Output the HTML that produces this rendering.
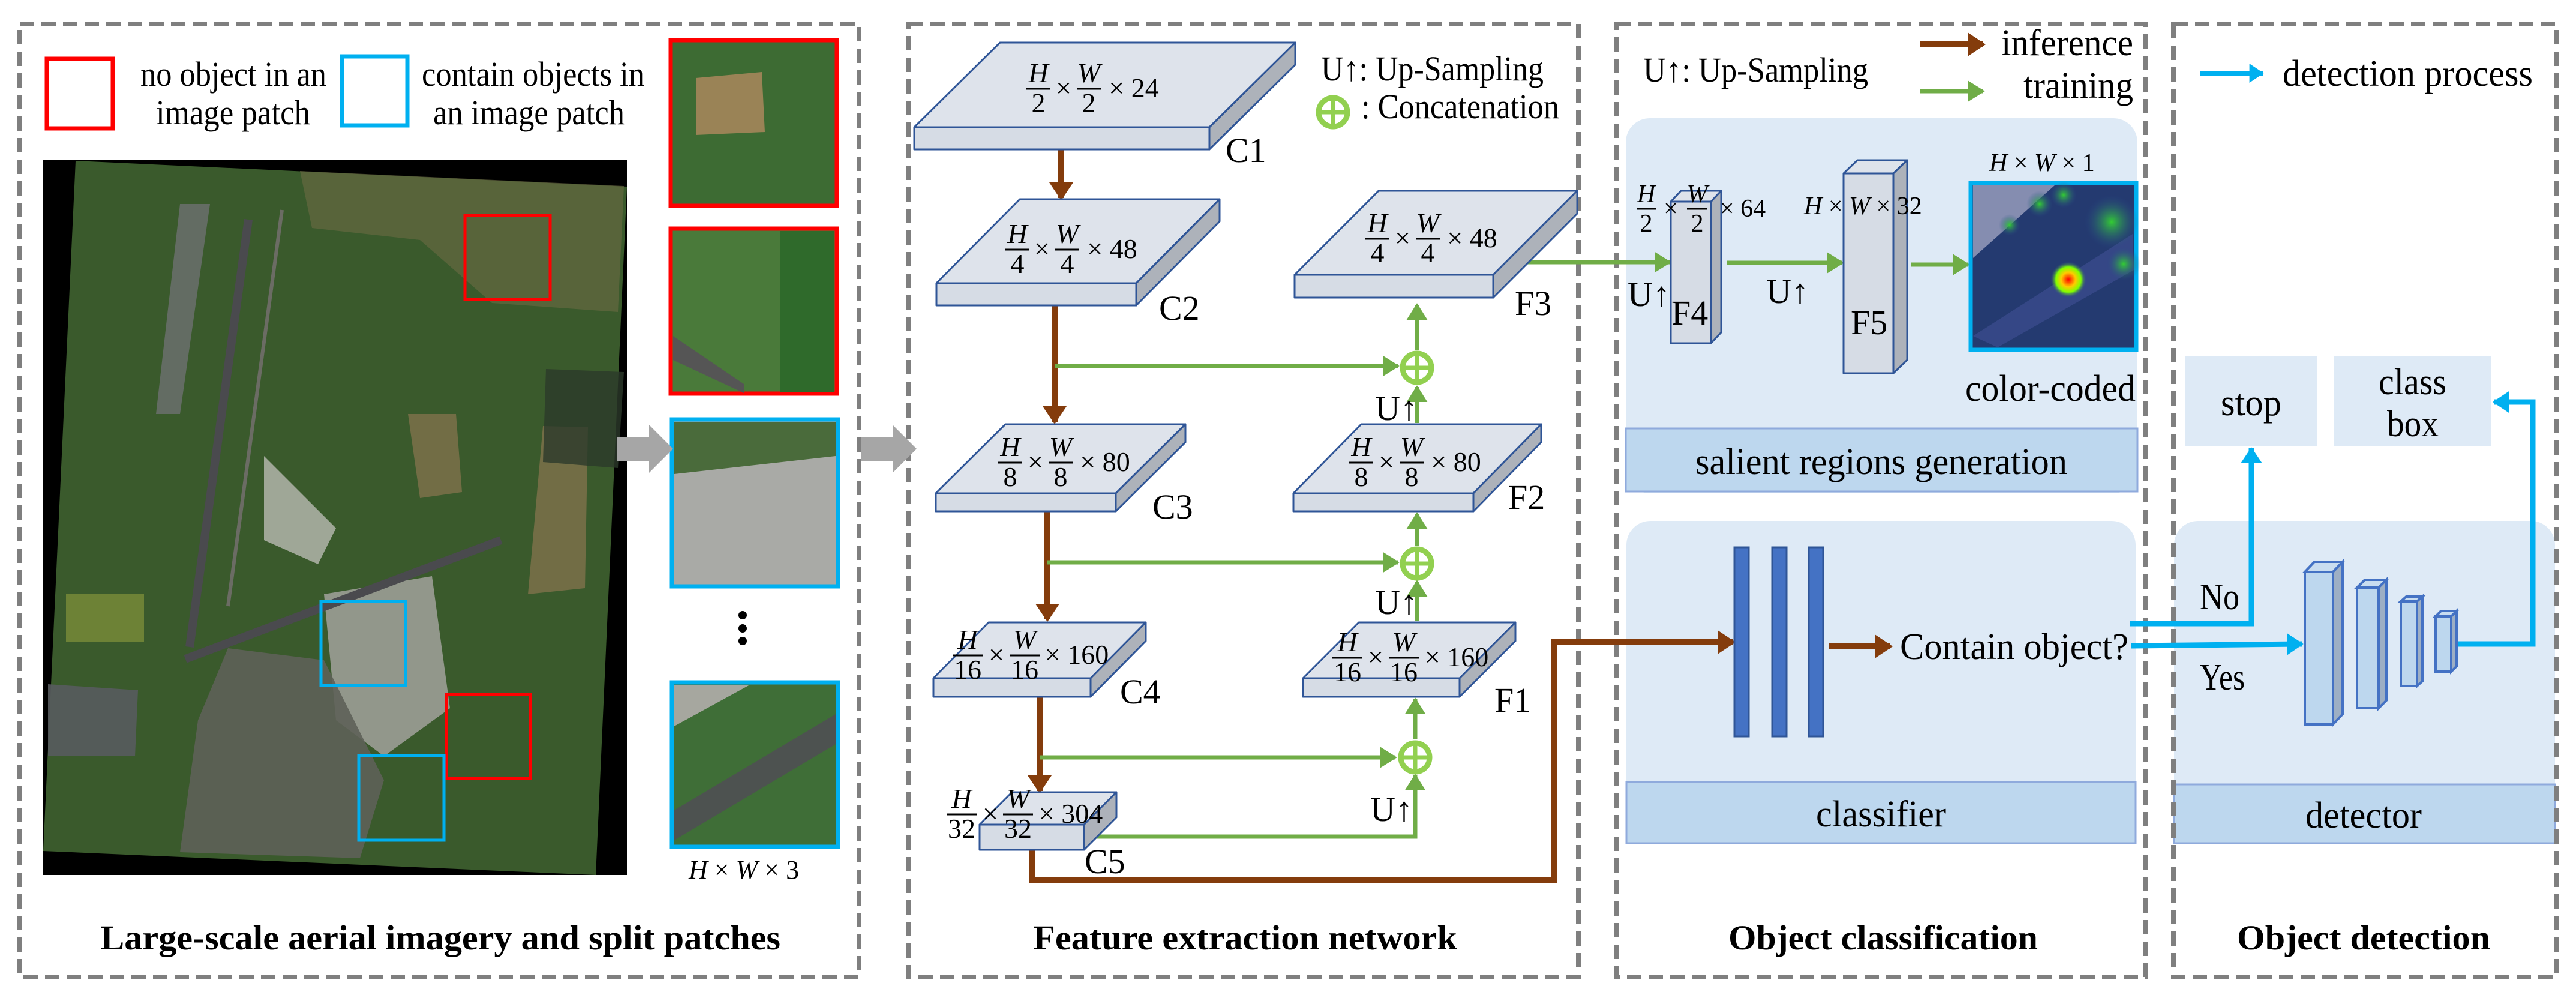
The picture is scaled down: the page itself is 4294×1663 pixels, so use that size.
<!DOCTYPE html>
<html><head><meta charset="utf-8"><style>
html,body{margin:0;padding:0;background:#fff}
svg{display:block}
text{font-family:"Liberation Serif","Noto Serif CJK SC","DejaVu Serif",serif;fill:#000}
.b{font-weight:bold;font-size:58px}
.t{font-size:58px}
.m{font-size:46px}
.mi{font-size:46px;font-style:italic}
</style></head><body>
<svg width="4294" height="1663" viewBox="0 0 4294 1663" xmlns="http://www.w3.org/2000/svg" font-family="'Liberation Serif', 'Noto Serif CJK SC', 'DejaVu Serif', serif">
<defs>
<marker id="br" markerWidth="4" markerHeight="4" refX="2.6" refY="2" orient="auto" markerUnits="strokeWidth"><path d="M0,0 L3,2 L0,4 z" fill="#843c0c"/></marker>
<marker id="gr" markerWidth="5" markerHeight="5" refX="3.6" refY="2.5" orient="auto" markerUnits="strokeWidth"><path d="M0,0 L4,2.5 L0,5 z" fill="#70ad47"/></marker>
<marker id="bl" markerWidth="4" markerHeight="4" refX="2.8" refY="2" orient="auto" markerUnits="strokeWidth"><path d="M0,0 L3,2 L0,4 z" fill="#00b0f0"/></marker>
<radialGradient id="hot"><stop offset="0" stop-color="#ff0000"/><stop offset="0.4" stop-color="#ffcc00"/><stop offset="0.7" stop-color="#7fff00"/><stop offset="1" stop-color="#2a4a8a" stop-opacity="0"/></radialGradient>
<radialGradient id="gbl"><stop offset="0" stop-color="#33cc33"/><stop offset="1" stop-color="#2a4a8a" stop-opacity="0"/></radialGradient>
</defs>

<!-- background boxes -->
<rect x="2710" y="197" width="853" height="625" rx="40" fill="#deeaf6"/>
<rect x="2710" y="714" width="853" height="105" fill="#bdd7ee" stroke="#8faadc" stroke-width="3"/>
<rect x="2711" y="868" width="849" height="537" rx="40" fill="#deeaf6"/>
<rect x="2711" y="1303" width="849" height="102" fill="#bdd7ee" stroke="#8faadc" stroke-width="3"/>
<rect x="3624" y="868" width="635" height="537" rx="40" fill="#deeaf6"/>
<rect x="3624" y="1307" width="635" height="98" fill="#bdd7ee" stroke="#8faadc" stroke-width="3"/>
<rect x="3643" y="594" width="219" height="149" fill="#deeaf6"/>
<rect x="3890" y="594" width="263" height="149" fill="#deeaf6"/>

<!-- dashed panels -->
<g fill="none" stroke="#7f7f7f" stroke-width="8" stroke-dasharray="24 12">
<rect x="33" y="40" width="1399" height="1588"/>
<rect x="1515" y="40" width="1116" height="1588"/>
<rect x="2694" y="40" width="883" height="1588"/>
<rect x="3623" y="40" width="638" height="1588"/>
</g>

<!-- Panel 1 legend -->
<rect x="78" y="98" width="110" height="116" fill="none" stroke="#ff0000" stroke-width="7"/>
<rect x="570" y="94" width="109" height="115" fill="none" stroke="#00b0f0" stroke-width="7"/>
<text class="t" x="234" y="143" textLength="310" lengthAdjust="spacingAndGlyphs">no object in an</text>
<text class="t" x="260" y="207" textLength="257" lengthAdjust="spacingAndGlyphs">image patch</text>
<text class="t" x="703" y="143" textLength="371" lengthAdjust="spacingAndGlyphs">contain objects in</text>
<text class="t" x="722" y="207" textLength="319" lengthAdjust="spacingAndGlyphs">an image patch</text>

<!-- aerial image -->
<rect x="72" y="266" width="973" height="1192" fill="#000"/>
<polygon points="126,268 1045,311 993,1458 72,1418" fill="#3a5a2c"/>
<polygon points="500,285 1040,310 1030,520 820,505 700,400 520,380" fill="#6d6a45" opacity="0.6"/>
<polygon points="905,710 980,712 975,980 880,990" fill="#8a7550" opacity="0.7"/>
<polygon points="680,690 760,690 770,820 700,830" fill="#8a7550" opacity="0.7"/>
<polygon points="910,615 1040,620 1030,780 905,770" fill="#2c3a2a" opacity="0.8"/>
<polygon points="440,760 560,880 530,940 440,900" fill="#b9bab3" opacity="0.8"/>
<polygon points="540,990 720,960 750,1180 640,1260 560,1200" fill="#9c9d96" opacity="0.9"/>
<polygon points="380,1080 540,1100 640,1300 600,1430 300,1420 330,1200" fill="#5e6158" opacity="0.9"/>
<polygon points="80,1140 230,1150 225,1260 80,1260" fill="#585b5e" opacity="0.9"/>
<polygon points="110,990 240,990 240,1070 110,1070" fill="#7a8c3a" opacity="0.8"/>
<polygon points="300,340 350,340 300,690 260,690" fill="#6e7072" opacity="0.8"/>
<line x1="414" y1="366" x2="316" y2="1078" stroke="#4a4a4e" stroke-width="14"/>
<line x1="309" y1="1098" x2="835" y2="900" stroke="#4a4a4e" stroke-width="14"/>
<line x1="470" y1="350" x2="380" y2="1010" stroke="#6b6c64" stroke-width="6"/>
<rect x="775" y="359" width="142" height="140" fill="none" stroke="#ff0000" stroke-width="5"/>
<rect x="535" y="1002" width="141" height="140" fill="none" stroke="#00b0f0" stroke-width="5"/>
<rect x="744" y="1157" width="140" height="140" fill="none" stroke="#ff0000" stroke-width="5"/>
<rect x="598" y="1259" width="142" height="141" fill="none" stroke="#00b0f0" stroke-width="5"/>

<!-- patches -->
<rect x="1118" y="67" width="277" height="276" fill="#3d6b33" stroke="#ff0000" stroke-width="7"/>
<polygon points="1160,130 1270,120 1275,220 1160,225" fill="#9a8356"/>
<rect x="1118" y="381" width="277" height="275" fill="#4a7a3a" stroke="#ff0000" stroke-width="7"/>
<polygon points="1122,560 1240,640 1240,655 1122,600" fill="#555"/>
<rect x="1300" y="385" width="90" height="268" fill="#2f6a2b"/>
<rect x="1120" y="699" width="277" height="278" fill="#a9aaa6" stroke="#00b0f0" stroke-width="7"/>
<polygon points="1124,703 1393,703 1393,760 1124,790" fill="#4a6b3b"/>
<circle cx="1238" cy="1025" r="7"/><circle cx="1238" cy="1047" r="7"/><circle cx="1238" cy="1068" r="7"/>
<rect x="1120" y="1137" width="277" height="274" fill="#3f6e37" stroke="#00b0f0" stroke-width="7"/>
<polygon points="1124,1141 1250,1141 1124,1210" fill="#a6a79f"/>
<polygon points="1393,1190 1393,1240 1124,1400 1124,1350" fill="#4d5250"/>
<text x="1148" y="1464" class="mi" style="font-size:44px">H <tspan font-style="normal">×</tspan> W <tspan font-style="normal">× 3</tspan></text>

<!-- gray arrows -->
<polygon points="1029,728 1082,728 1082,708 1122,748 1082,788 1082,768 1029,768" fill="#a6a6a6"/>
<polygon points="1435,728 1488,728 1488,708 1528,748 1488,788 1488,768 1435,768" fill="#a6a6a6"/>

<!-- titles -->
<text class="b" x="167" y="1582" textLength="1134" lengthAdjust="spacingAndGlyphs">Large-scale aerial imagery and split patches</text>
<text class="b" x="1722" y="1582" textLength="707" lengthAdjust="spacingAndGlyphs">Feature extraction network</text>
<text class="b" x="2881" y="1582" textLength="516" lengthAdjust="spacingAndGlyphs">Object classification</text>
<text class="b" x="3729" y="1582" textLength="422" lengthAdjust="spacingAndGlyphs">Object detection</text>

<!-- brown arrows -->
<g stroke="#843c0c" stroke-width="10" fill="none">
<line x1="1769" y1="249" x2="1769" y2="330" marker-end="url(#br)"/>
<line x1="1758" y1="509" x2="1758" y2="703" marker-end="url(#br)"/>
<line x1="1746" y1="852" x2="1746" y2="1032" marker-end="url(#br)"/>
<line x1="1733" y1="1161" x2="1733" y2="1318" marker-end="url(#br)"/>
<polyline points="1720,1416 1720,1466 2590,1466 2590,1070 2889,1070" marker-end="url(#br)"/>
<line x1="3048" y1="1077" x2="3151" y2="1077" marker-end="url(#br)"/>
<line x1="3200" y1="74" x2="3306" y2="74" marker-end="url(#br)"/>
</g>

<!-- green lines -->
<g stroke="#70ad47" stroke-width="7" fill="none">
<line x1="1758" y1="610" x2="2330" y2="610" marker-end="url(#gr)"/>
<line x1="1746" y1="937" x2="2330" y2="937" marker-end="url(#gr)"/>
<line x1="1733" y1="1262" x2="2326" y2="1262" marker-end="url(#gr)"/>
<polyline points="1807,1394 2359,1394 2359,1292" marker-end="url(#gr)"/>
<line x1="2359" y1="1232" x2="2359" y2="1165" marker-end="url(#gr)"/>
<line x1="2362" y1="1034" x2="2362" y2="969" marker-end="url(#gr)"/>
<line x1="2362" y1="909" x2="2362" y2="856" marker-end="url(#gr)"/>
<line x1="2362" y1="705" x2="2362" y2="645" marker-end="url(#gr)"/>
<line x1="2362" y1="583" x2="2362" y2="508" marker-end="url(#gr)"/>
<line x1="2525" y1="437" x2="2783" y2="437" marker-end="url(#gr)"/>
<line x1="2879" y1="438" x2="3071" y2="438" marker-end="url(#gr)"/>
<line x1="3185" y1="441" x2="3281" y2="441" marker-end="url(#gr)"/>
<line x1="3200" y1="152" x2="3306" y2="152" marker-end="url(#gr)"/>
</g>

<!-- slabs -->
<g stroke="#2f5597" stroke-width="3" stroke-linejoin="round">
<polygon points="1524,212 1667,71 2159,71 2016,212" fill="#dee3eb"/>
<polygon points="2016,212 2159,71 2159,108 2016,249" fill="#adb2ba"/>
<rect x="1524" y="212" width="492" height="37" fill="#d6dce5"/>
<polygon points="1561,472 1700,332 2033,332 1894,472" fill="#dee3eb"/>
<polygon points="1894,472 2033,332 2033,369 1894,509" fill="#adb2ba"/>
<rect x="1561" y="472" width="333" height="37" fill="#d6dce5"/>
<polygon points="1560,822 1676,707 1976,707 1860,822" fill="#dee3eb"/>
<polygon points="1860,822 1976,707 1976,737 1860,852" fill="#adb2ba"/>
<rect x="1560" y="822" width="300" height="30" fill="#d6dce5"/>
<polygon points="1556,1130 1648,1037 1910,1037 1818,1130" fill="#dee3eb"/>
<polygon points="1818,1130 1910,1037 1910,1068 1818,1161" fill="#adb2ba"/>
<rect x="1556" y="1130" width="262" height="31" fill="#d6dce5"/>
<polygon points="1633,1374 1687,1320 1861,1320 1807,1374" fill="#dee3eb"/>
<polygon points="1807,1374 1861,1320 1861,1362 1807,1416" fill="#adb2ba"/>
<rect x="1633" y="1374" width="174" height="42" fill="#d6dce5"/>
<polygon points="2158,458 2298,318 2629,318 2489,458" fill="#dee3eb"/>
<polygon points="2489,458 2629,318 2629,356 2489,496" fill="#adb2ba"/>
<rect x="2158" y="458" width="331" height="38" fill="#d6dce5"/>
<polygon points="2156,822 2269,707 2569,707 2456,822" fill="#dee3eb"/>
<polygon points="2456,822 2569,707 2569,737 2456,852" fill="#adb2ba"/>
<rect x="2156" y="822" width="300" height="30" fill="#d6dce5"/>
<polygon points="2172,1130 2265,1037 2526,1037 2433,1130" fill="#dee3eb"/>
<polygon points="2433,1130 2526,1037 2526,1068 2433,1161" fill="#adb2ba"/>
<rect x="2172" y="1130" width="261" height="31" fill="#d6dce5"/>
<polygon points="2785,336 2802,318 2869,318 2852,336" fill="#dee3eb"/>
<polygon points="2852,336 2869,318 2869,554 2852,572" fill="#adb2ba"/>
<rect x="2785" y="336" width="67" height="236" fill="#d6dce5"/>
<polygon points="3073,289 3096,267 3179,267 3156,289" fill="#dee3eb"/>
<polygon points="3156,289 3179,267 3179,600 3156,622" fill="#adb2ba"/>
<rect x="3073" y="289" width="83" height="333" fill="#d6dce5"/>
</g>

<!-- concat circles -->
<g fill="#fff" stroke="#92d050" stroke-width="9">
<circle cx="2362" cy="613" r="24"/><circle cx="2362" cy="939" r="24"/><circle cx="2359" cy="1262" r="24"/>
</g>
<g stroke="#92d050" stroke-width="7">
<line x1="2338" y1="613" x2="2386" y2="613"/><line x1="2362" y1="589" x2="2362" y2="637"/>
<line x1="2338" y1="939" x2="2386" y2="939"/><line x1="2362" y1="915" x2="2362" y2="963"/>
<line x1="2335" y1="1262" x2="2383" y2="1262"/><line x1="2359" y1="1238" x2="2359" y2="1286"/>
</g>

<!-- slab labels -->
<text class="t" x="2043" y="270">C1</text>
<text class="t" x="1932" y="533">C2</text>
<text class="t" x="1921" y="864">C3</text>
<text class="t" x="1867" y="1172">C4</text>
<text class="t" x="1808" y="1455">C5</text>
<text class="t" x="2525" y="525">F3</text>
<text class="t" x="2514" y="848">F2</text>
<text class="t" x="2491" y="1186">F1</text>
<text class="t" x="2786" y="541">F4</text>
<text class="t" x="3085" y="557">F5</text>

<!-- fraction lines -->
<g stroke="#000" stroke-width="3">
<line x1="1711" y1="148" x2="1751" y2="148"/><line x1="1795" y1="148" x2="1835" y2="148"/>
<line x1="1676" y1="416" x2="1716" y2="416"/><line x1="1759" y1="416" x2="1799" y2="416"/>
<line x1="1664" y1="771" x2="1704" y2="771"/><line x1="1748" y1="771" x2="1788" y2="771"/>
<line x1="1588" y1="1092" x2="1638" y2="1092"/><line x1="1683" y1="1092" x2="1733" y2="1092"/>
<line x1="1578" y1="1357" x2="1628" y2="1357"/><line x1="1672" y1="1357" x2="1722" y2="1357"/>
<line x1="2276" y1="398" x2="2316" y2="398"/><line x1="2360" y1="398" x2="2400" y2="398"/>
<line x1="2249" y1="771" x2="2289" y2="771"/><line x1="2333" y1="771" x2="2373" y2="771"/>
<line x1="2221" y1="1096" x2="2271" y2="1096"/><line x1="2315" y1="1096" x2="2365" y2="1096"/>
<line x1="2728" y1="348" x2="2760" y2="348"/><line x1="2812" y1="348" x2="2846" y2="348"/>
</g>
<g text-anchor="middle">
<text class="mi" x="1731" y="137">H</text><text class="m" x="1731" y="187">2</text><text class="m" x="1773" y="162">×</text><text class="mi" x="1815" y="137">W</text><text class="m" x="1815" y="187">2</text><text class="m" x="1890" y="162">× 24</text>
<text class="mi" x="1696" y="405">H</text><text class="m" x="1696" y="455">4</text><text class="m" x="1737" y="430">×</text><text class="mi" x="1779" y="405">W</text><text class="m" x="1779" y="455">4</text><text class="m" x="1854" y="430">× 48</text>
<text class="mi" x="1684" y="760">H</text><text class="m" x="1684" y="810">8</text><text class="m" x="1726" y="785">×</text><text class="mi" x="1768" y="760">W</text><text class="m" x="1768" y="810">8</text><text class="m" x="1842" y="785">× 80</text>
<text class="mi" x="1613" y="1081">H</text><text class="m" x="1613" y="1131">16</text><text class="m" x="1661" y="1106">×</text><text class="mi" x="1708" y="1081">W</text><text class="m" x="1708" y="1131">16</text><text class="m" x="1795" y="1106">× 160</text>
<text class="mi" x="1603" y="1346">H</text><text class="m" x="1603" y="1396">32</text><text class="m" x="1651" y="1371">×</text><text class="mi" x="1697" y="1346">W</text><text class="m" x="1697" y="1396">32</text><text class="m" x="1785" y="1371">× 304</text>
<text class="mi" x="2296" y="387">H</text><text class="m" x="2296" y="437">4</text><text class="m" x="2338" y="412">×</text><text class="mi" x="2380" y="387">W</text><text class="m" x="2380" y="437">4</text><text class="m" x="2454" y="412">× 48</text>
<text class="mi" x="2269" y="760">H</text><text class="m" x="2269" y="810">8</text><text class="m" x="2311" y="785">×</text><text class="mi" x="2353" y="760">W</text><text class="m" x="2353" y="810">8</text><text class="m" x="2427" y="785">× 80</text>
<text class="mi" x="2246" y="1085">H</text><text class="m" x="2246" y="1135">16</text><text class="m" x="2293" y="1110">×</text><text class="mi" x="2340" y="1085">W</text><text class="m" x="2340" y="1135">16</text><text class="m" x="2428" y="1110">× 160</text>
<text class="mi" x="2744" y="337" style="font-size:42px">H</text><text class="m" x="2744" y="386" style="font-size:42px">2</text><text class="m" x="2785" y="361" style="font-size:42px">×</text><text class="mi" x="2829" y="337" style="font-size:42px">W</text><text class="m" x="2829" y="386" style="font-size:42px">2</text><text class="m" x="2905" y="361" style="font-size:42px">× 64</text>
</g>

<!-- panel 2 legend -->
<text class="t" x="2202" y="134" textLength="371" lengthAdjust="spacingAndGlyphs">U↑: Up-Sampling</text>
<circle cx="2222" cy="187" r="24" fill="none" stroke="#92d050" stroke-width="9"/>
<line x1="2198" y1="187" x2="2246" y2="187" stroke="#92d050" stroke-width="7"/>
<line x1="2222" y1="163" x2="2222" y2="211" stroke="#92d050" stroke-width="7"/>
<text class="t" x="2269" y="197" textLength="330" lengthAdjust="spacingAndGlyphs">: Concatenation</text>
<text class="t" x="2292" y="700">U↑</text>
<text class="t" x="2292" y="1023">U↑</text>
<text class="t" x="2284" y="1368">U↑</text>

<!-- Panel 3 -->
<text class="t" x="2739" y="136" textLength="375" lengthAdjust="spacingAndGlyphs">U↑: Up-Sampling</text>
<text class="t" x="3336" y="92" style="font-size:62px" textLength="220" lengthAdjust="spacingAndGlyphs">inference</text>
<text class="t" x="3373" y="163" style="font-size:62px" textLength="183" lengthAdjust="spacingAndGlyphs">training</text>
<text class="t" x="2826" y="790" style="font-size:62px" textLength="620" lengthAdjust="spacingAndGlyphs">salient regions generation</text>
<text class="t" x="3027" y="1377" style="font-size:62px" textLength="217" lengthAdjust="spacingAndGlyphs">classifier</text>
<text class="t" x="2713" y="510">U↑</text>
<text class="t" x="2944" y="505">U↑</text>
<text class="mi" x="3007" y="357" style="font-size:42px">H <tspan font-style="normal">×</tspan> W <tspan font-style="normal">× 32</tspan></text>
<text class="mi" x="3316" y="285" style="font-size:42px">H <tspan font-style="normal">×</tspan> W <tspan font-style="normal">× 1</tspan></text>

<!-- heatmap -->
<rect x="3285" y="305" width="276" height="278" fill="#243a70" stroke="#00b0f0" stroke-width="7"/>
<polygon points="3289,309 3425,309 3289,430" fill="#9ea2c0" opacity="0.8"/>
<polygon points="3289,560 3555,390 3557,450 3330,579" fill="#3d4d90" opacity="0.7"/>
<circle cx="3520" cy="370" r="45" fill="url(#gbl)"/>
<circle cx="3540" cy="440" r="28" fill="url(#gbl)"/>
<circle cx="3400" cy="340" r="22" fill="url(#gbl)"/>
<circle cx="3440" cy="325" r="22" fill="url(#gbl)"/>
<circle cx="3350" cy="375" r="18" fill="url(#gbl)"/>
<circle cx="3448" cy="466" r="30" fill="url(#hot)"/>
<text class="t" x="3276" y="668" style="font-size:62px" textLength="284" lengthAdjust="spacingAndGlyphs">color-coded</text>

<!-- classifier bars -->
<g fill="#4472c4" stroke="#2f5597" stroke-width="3">
<rect x="2891" y="912" width="24" height="315"/>
<rect x="2954" y="912" width="24" height="315"/>
<rect x="3015" y="912" width="24" height="315"/>
</g>
<text class="t" x="3167" y="1098" style="font-size:62px" textLength="381" lengthAdjust="spacingAndGlyphs">Contain object?</text>

<!-- Panel 4 -->
<line x1="3667" y1="122" x2="3772" y2="122" stroke="#00b0f0" stroke-width="8" marker-end="url(#bl)"/>
<text class="t" x="3805" y="143" style="font-size:62px" textLength="417" lengthAdjust="spacingAndGlyphs">detection process</text>
<text class="t" x="3702" y="692" style="font-size:62px" textLength="101" lengthAdjust="spacingAndGlyphs">stop</text>
<text class="t" x="3965" y="657" style="font-size:62px" textLength="113" lengthAdjust="spacingAndGlyphs">class</text>
<text class="t" x="3979" y="727" style="font-size:62px" textLength="86" lengthAdjust="spacingAndGlyphs">box</text>
<text class="t" x="3843" y="1379" style="font-size:62px" textLength="194" lengthAdjust="spacingAndGlyphs">detector</text>

<g stroke="#00b0f0" stroke-width="9" fill="none">
<polyline points="3551,1039 3753,1039 3753,747" marker-end="url(#bl)"/>
<line x1="3553" y1="1076" x2="3838" y2="1073" marker-end="url(#bl)"/>
<polyline points="4095,1073 4222,1073 4222,670 4157,670" marker-end="url(#bl)"/>
</g>

<g stroke="#4472c4" stroke-width="4">
<polygon points="3842,953 3858,936 3905,936 3889,953" fill="#c9ddf0"/>
<polygon points="3889,953 3905,936 3905,1190 3889,1207" fill="#9dafc4"/>
<rect x="3842" y="953" width="47" height="254" fill="#bdd7ee"/>
<polygon points="3929,979 3942,966 3978,966 3965,979" fill="#c9ddf0"/>
<polygon points="3965,979 3978,966 3978,1167 3965,1180" fill="#9dafc4"/>
<rect x="3929" y="979" width="36" height="201" fill="#bdd7ee"/>
<polygon points="4002,1002 4011,994 4038,994 4029,1002" fill="#c9ddf0"/>
<polygon points="4029,1002 4038,994 4038,1135 4029,1143" fill="#9dafc4"/>
<rect x="4002" y="1002" width="27" height="141" fill="#bdd7ee"/>
<polygon points="4060,1027 4069,1018 4095,1018 4086,1027" fill="#c9ddf0"/>
<polygon points="4086,1027 4095,1018 4095,1110 4086,1119" fill="#9dafc4"/>
<rect x="4060" y="1027" width="26" height="92" fill="#bdd7ee"/>
</g>
<text class="t" x="3667" y="1015" style="font-size:62px" textLength="66" lengthAdjust="spacingAndGlyphs">No</text>
<text class="t" x="3667" y="1149" style="font-size:62px" textLength="75" lengthAdjust="spacingAndGlyphs">Yes</text>
</svg>
</body></html>
